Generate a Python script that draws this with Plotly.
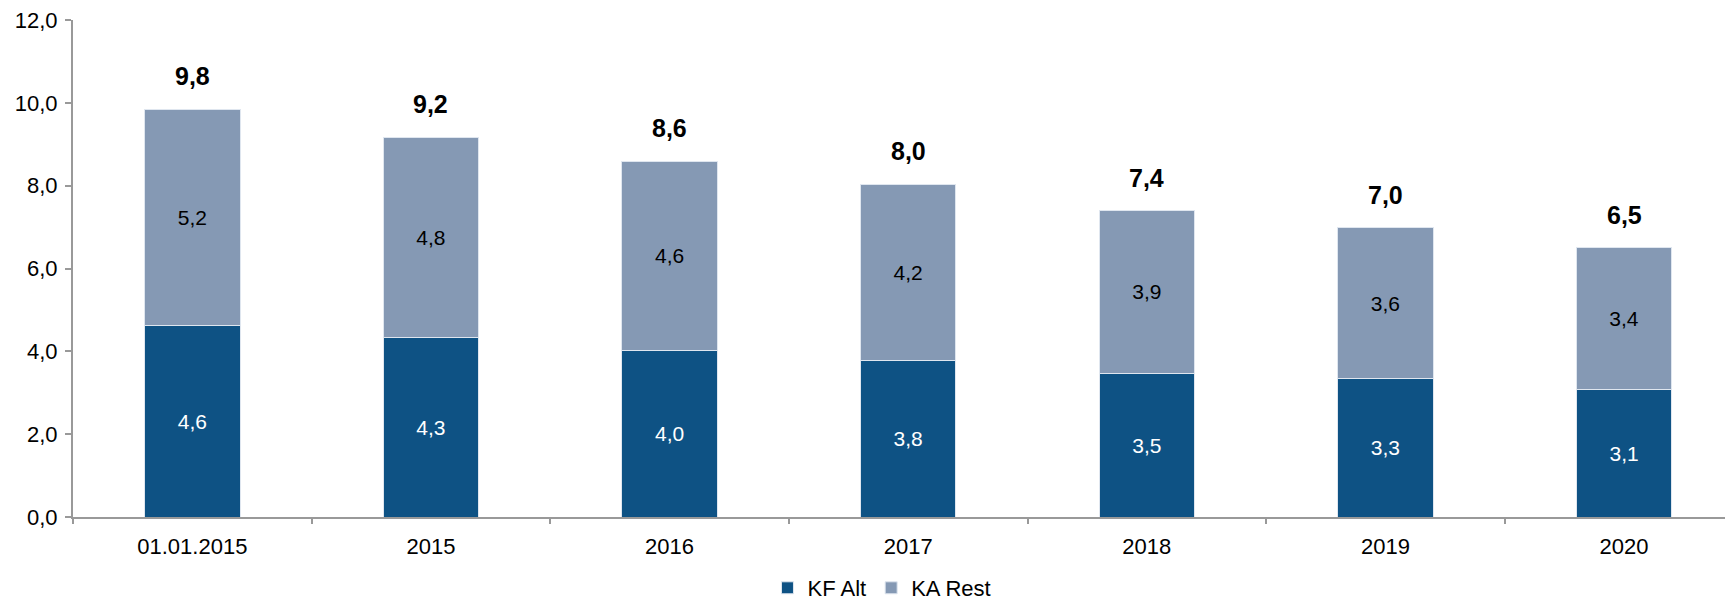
"""Stacked bars KF Alt / KA Rest"""

import plotly.graph_objects as go

categories = ["01.01.2015", "2015", "2016", "2017", "2018", "2019", "2020"]
kf_alt = [4.62, 4.33, 4.02, 3.79, 3.47, 3.34, 3.09]
ka_rest = [5.22, 4.84, 4.57, 4.24, 3.93, 3.64, 3.41]
totals = [a + b for a, b in zip(kf_alt, ka_rest)]

FONT = "Liberation Sans, Arial, sans-serif"
DARK = "#0e5284"
LIGHT = "#8599b4"
SIZE = 21
AXIS_SIZE = 22

fig = go.Figure()
fig.add_trace(go.Bar(
    name="KF Alt", x=categories, y=kf_alt,
    marker=dict(color=DARK, line=dict(color="#dfe6ef", width=1)),
    texttemplate="%{y:.1f}", textposition="inside",
    insidetextanchor="middle",
    textfont=dict(color="white", size=SIZE, family=FONT),
    hoverinfo="skip",
))
fig.add_trace(go.Bar(
    name="KA Rest", x=categories, y=ka_rest,
    marker=dict(color=LIGHT, line=dict(color="#dfe6ef", width=1)),
    texttemplate="%{y:.1f}", textposition="inside",
    insidetextanchor="middle",
    textfont=dict(color="black", size=SIZE, family=FONT),
    hoverinfo="skip",
))

# bold totals above each bar (x given as category index)
for i, tot in enumerate(totals):
    fig.add_annotation(x=i, y=tot, text="<b>{:.1f}</b>".format(tot).replace(".", ","),
                       showarrow=False, yshift=33, xref="x", yref="y",
                       font=dict(size=25, color="black", family=FONT))

# page body has an 8px margin, so margins are trimmed by that much
fig.update_layout(
    width=1733, height=601,
    barmode="stack", bargap=0.6,
    separators=",.",
    plot_bgcolor="white", paper_bgcolor="white",
    margin=dict(l=65, r=0, t=12, b=91),
    font=dict(family=FONT, size=SIZE, color="black"),
    legend=dict(orientation="h", x=0.485, xanchor="center", y=-0.143,
                yanchor="middle", font=dict(size=AXIS_SIZE), traceorder="normal",
                itemwidth=30),
    showlegend=True,
)
fig.update_xaxes(
    type="category", range=[-0.5, 6.49], automargin=False,
    showline=True, linecolor="#999999", linewidth=2,
    ticks="outside", tickson="boundaries", ticklen=5, tickcolor="#999999",
    tickwidth=2, showgrid=False, tickfont=dict(size=AXIS_SIZE),
    ticklabelstandoff=9,
)
fig.update_yaxes(
    range=[0, 12], dtick=2, tickformat=".1f", automargin=False,
    showline=True, linecolor="#999999", linewidth=2,
    ticks="outside", ticklen=6, tickcolor="#999999", tickwidth=2,
    showgrid=False, zeroline=False, tickfont=dict(size=AXIS_SIZE),
    ticklabelstandoff=3, ticklabeloverflow="allow",
)

fig.write_html("out.html")
